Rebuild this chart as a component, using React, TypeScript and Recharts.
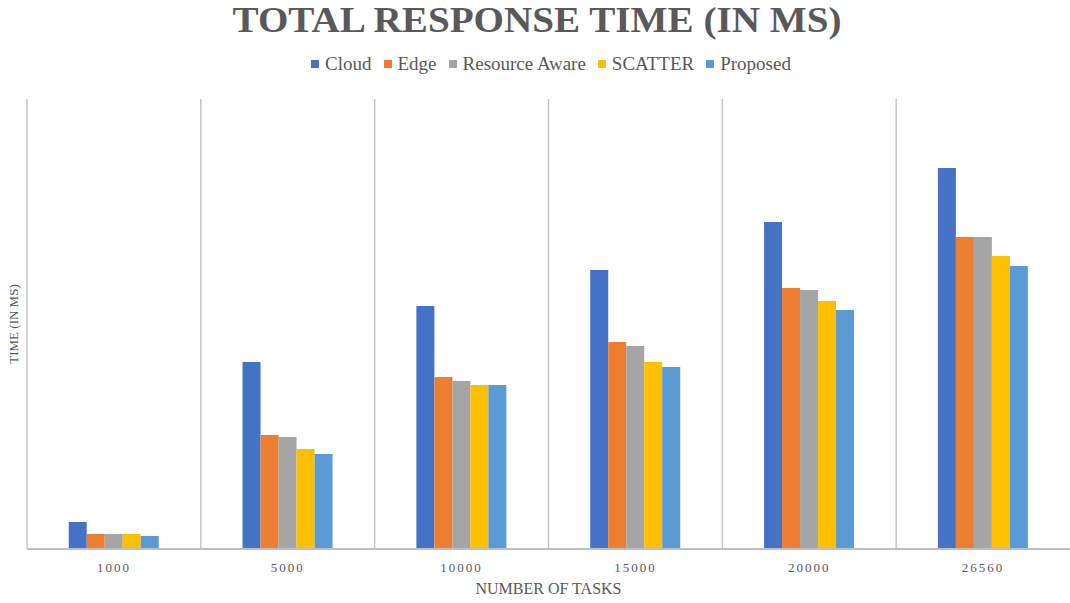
import React from "react";
import { BarChart, Bar, XAxis, YAxis, Legend, ReferenceLine } from "recharts";

const TASKS = ["1000", "5000", "10000", "15000", "20000", "26560"];

const CLOUD = [270, 1870, 2430, 2790, 3270, 3810];
const EDGE = [150, 1140, 1720, 2070, 2610, 3120];
const RESOURCE_AWARE = [150, 1120, 1680, 2030, 2590, 3120];
const SCATTER = [150, 1000, 1640, 1870, 2480, 2930];
const PROPOSED = [130, 950, 1640, 1820, 2390, 2830];

const SERIES = [
  { key: "cloud", name: "Cloud", color: "#4472c4", values: CLOUD },
  { key: "edge", name: "Edge", color: "#ed7d31", values: EDGE },
  { key: "resourceAware", name: "Resource Aware", color: "#a5a5a5", values: RESOURCE_AWARE },
  { key: "scatter", name: "SCATTER", color: "#ffc000", values: SCATTER },
  { key: "proposed", name: "Proposed", color: "#5b9bd5", values: PROPOSED },
];

const Y_MAX = 4500;
const FONT = "'Liberation Serif', 'Times New Roman', serif";
const TEXT_COLOR = "#595959";
const GRID_COLOR = "#c6c6c6";

const data = TASKS.map((task, i) => {
  const row: Record<string, string | number> = { task };
  SERIES.forEach((s) => {
    row[s.key] = s.values[i];
  });
  return row;
});

// legend kept in series order (the default payload comes back sorted)
function LegendRow() {
  return (
    <div
      style={{
        display: "flex",
        justifyContent: "center",
        alignItems: "center",
        height: 24,
        paddingLeft: 44,
        fontFamily: FONT,
        fontSize: 19,
        color: TEXT_COLOR,
      }}
    >
      {SERIES.map((s) => (
        <div key={s.key} style={{ display: "flex", alignItems: "center", marginRight: 12 }}>
          <span style={{ width: 8, height: 8, background: s.color, marginRight: 6, display: "inline-block" }} />
          <span>{s.name}</span>
        </div>
      ))}
    </div>
  );
}

export default function App() {
  return (
    <div style={{ position: "absolute", left: 0, top: 0, width: 1070, height: 603, background: "#fff" }}>
      <BarChart
        width={1070}
        height={603}
        data={data}
        margin={{ top: 75, right: 0, bottom: 24, left: 0 }}
        barCategoryGap="24%"
        barGap={0}
      >
        <text
          x={537}
          y={32}
          textAnchor="middle"
          textLength={609}
          lengthAdjust="spacingAndGlyphs"
          fontFamily={FONT}
          fontWeight="bold"
          fontSize={35.5}
          fill={TEXT_COLOR}
        >
          TOTAL RESPONSE TIME (IN MS)
        </text>
        <Legend
          verticalAlign="top"
          content={<LegendRow />}
          wrapperStyle={{ top: 52, left: 0, width: 1070 }}
        />
        {TASKS.map((t) => (
          <ReferenceLine key={t} x={t} position="start" stroke={GRID_COLOR} strokeWidth={1.5} />
        ))}
        <XAxis
          dataKey="task"
          height={30}
          tickSize={0}
          tickMargin={14}
          axisLine={{ stroke: "#bfbfbf", strokeWidth: 2 }}
          tickLine={false}
          tick={{ fill: TEXT_COLOR, fontFamily: FONT, fontSize: 13, letterSpacing: 2 }}
          label={{
            value: "NUMBER OF TASKS",
            position: "bottom",
            offset: 4,
            fill: TEXT_COLOR,
            fontFamily: FONT,
            fontSize: 16,
          }}
        />
        <YAxis
          width={27}
          domain={[0, Y_MAX]}
          tick={false}
          tickLine={false}
          axisLine={false}
          label={{
            value: "TIME (IN MS)",
            angle: -90,
            position: "center",
            fill: TEXT_COLOR,
            fontFamily: FONT,
            fontSize: 13,
          }}
        />
        {SERIES.map((s) => (
          <Bar key={s.key} dataKey={s.key} name={s.name} fill={s.color} isAnimationActive={false} />
        ))}
      </BarChart>
    </div>
  );
}
